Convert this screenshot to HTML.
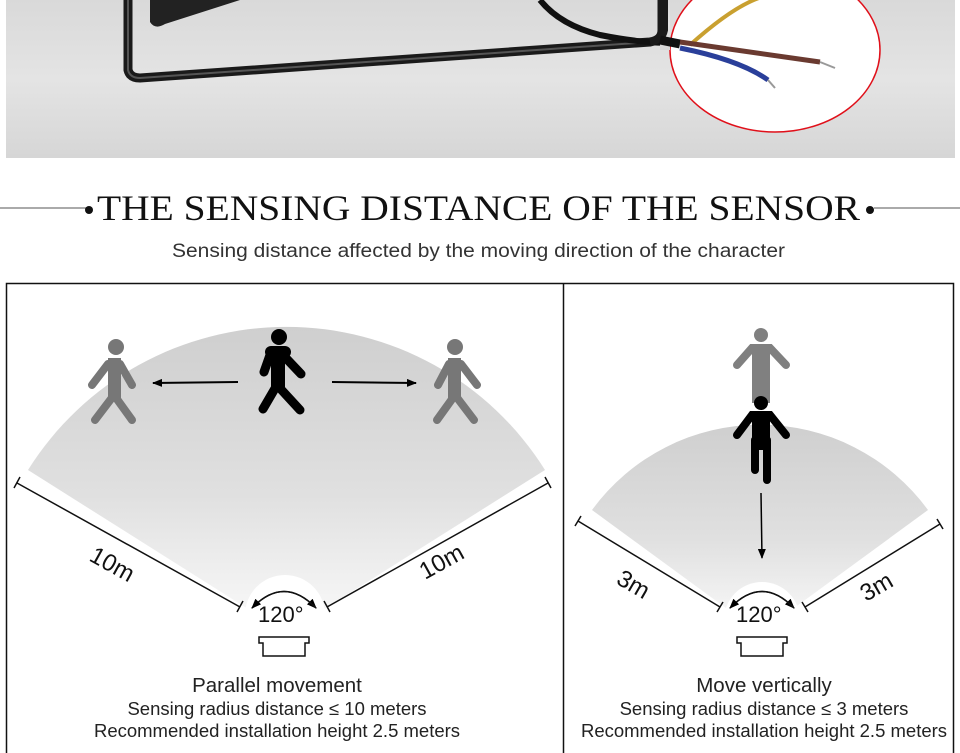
<!DOCTYPE html>
<html><head><meta charset="utf-8"><style>
html,body{margin:0;padding:0;background:#fff;width:960px;height:753px;overflow:hidden}
svg{display:block}
</style></head><body>
<svg width="960" height="753" viewBox="0 0 960 753" xmlns="http://www.w3.org/2000/svg">
<defs>
<linearGradient id="bg" x1="0" y1="0" x2="0" y2="1">
<stop offset="0" stop-color="#d9d9d9"/><stop offset="0.5" stop-color="#e4e4e4"/><stop offset="1" stop-color="#d6d6d6"/></linearGradient>
<linearGradient id="sec" x1="0" y1="0" x2="0" y2="1">
<stop offset="0" stop-color="#cfcfcf"/><stop offset="0.55" stop-color="#e0e0e0"/><stop offset="1" stop-color="#fbfbfb"/></linearGradient>
<marker id="ah" markerWidth="10" markerHeight="8" refX="9" refY="4" orient="auto" markerUnits="userSpaceOnUse"><path d="M0,0 L10,4 L0,8 Z" fill="#000"/></marker>
</defs>
<!-- photo -->
<rect x="6" y="0" width="949" height="158" fill="url(#bg)"/>
<path d="M128,0 L128,70 Q130,78 140,78 L650,42 Q662,40 662,30 L662,0" fill="none" stroke="#1a1a1a" stroke-width="9"/>
<path d="M128,0 L128,70 Q130,78 140,78 L650,42 Q662,40 662,30 L662,0" fill="none" stroke="#555" stroke-width="2"/>
<path d="M150,0 L150,22 Q155,30 165,24 L240,0 Z" fill="#222"/>
<path d="M540,0 Q560,25 600,35 Q650,45 680,42" fill="none" stroke="#111" stroke-width="6"/>
<ellipse cx="775" cy="50" rx="105" ry="82" fill="#fff" stroke="#e0101a" stroke-width="1.5"/>
<rect x="660" y="0" width="10" height="50" fill="url(#bg)"/>
<path d="M664,0 L664,30 Q662,40 650,42" fill="none" stroke="#1a1a1a" stroke-width="8"/>
<path d="M660,40 L680,44" stroke="#111" stroke-width="9"/>
<path d="M690,45 Q740,0 770,-5" fill="none" stroke="#c9a030" stroke-width="4"/>
<path d="M680,42 L820,62" stroke="#6a3a30" stroke-width="5"/>
<path d="M820,62 L835,68" stroke="#999" stroke-width="2"/>
<path d="M680,48 Q740,60 768,80" fill="none" stroke="#2a3f9a" stroke-width="5"/>
<path d="M768,80 L775,88" stroke="#999" stroke-width="2"/>
<!-- title -->
<line x1="0" y1="208" x2="86" y2="208" stroke="#555" stroke-width="1"/>
<line x1="874" y1="208" x2="960" y2="208" stroke="#555" stroke-width="1"/>
<circle cx="89" cy="210" r="4" fill="#111"/>
<circle cx="870" cy="210" r="4" fill="#111"/>
<text x="97" y="220" font-family="Liberation Serif, serif" font-size="36" fill="#111" textLength="763" lengthAdjust="spacingAndGlyphs">THE SENSING DISTANCE OF THE SENSOR</text>
<text x="172" y="257" font-family="Liberation Sans, sans-serif" font-size="19" fill="#333" textLength="613" lengthAdjust="spacingAndGlyphs">Sensing distance affected by the moving direction of the character</text>
<!-- boxes -->
<rect x="6.5" y="283.5" width="947" height="480" fill="none" stroke="#111" stroke-width="1.5"/>
<line x1="563.5" y1="283" x2="563.5" y2="753" stroke="#111" stroke-width="1.5"/>
<!-- left sector -->
<path d="M286,633 L28,470 A305,305 0 0 1 545,470 Z" fill="url(#sec)"/>
<circle cx="285" cy="615" r="40" fill="#fff"/>
<g stroke="#111" stroke-width="1.5" fill="none">
<line x1="17" y1="483" x2="240" y2="607"/><line x1="14" y1="488" x2="20" y2="477"/><line x1="237" y1="612" x2="243" y2="601"/>
<line x1="327" y1="607" x2="548" y2="483"/><line x1="324" y1="601" x2="330" y2="612"/><line x1="545" y1="477" x2="551" y2="488"/>
<path d="M252,608 Q284,575 316,608" marker-end="url(#ah)"/>
<path d="M316,608 Q284,575 252,608" marker-end="url(#ah)"/>
</g>
<text x="0" y="0" transform="translate(88,560) rotate(29)" font-family="Liberation Sans, sans-serif" font-size="24" fill="#111">10m</text>
<text x="0" y="0" transform="translate(425,580) rotate(-29)" font-family="Liberation Sans, sans-serif" font-size="24" fill="#111">10m</text>
<text x="258" y="622" font-family="Liberation Sans, sans-serif" font-size="22" fill="#111">120°</text>
<path d="M259,637 L309,637 L309,643 L305,643 L305,656 L263,656 L263,643 L259,643 Z" fill="#fff" stroke="#111" stroke-width="1.5"/>
<!-- left figures -->
<g stroke="#000" stroke-linecap="round" stroke-width="9" fill="none">
<circle cx="279" cy="337" r="8" fill="#000" stroke="none"/>
<path d="M277,355 L277,385 M277,385 L263,409 M277,385 L300,410 M270,355 L264,372 M283,355 L301,374" />
<path d="M271,352 L285,352" stroke-width="12"/>
</g>
<rect x="271" y="350" width="14" height="38" fill="#000"/>
<g stroke="#777" stroke-linecap="round" stroke-width="8" fill="none">
<circle cx="116" cy="347" r="8" fill="#777" stroke="none"/>
<path d="M114,362 L114,395 L95,420 M114,395 L132,420 M108,364 L92,385 M120,364 L132,385"/>
</g>
<rect x="108" y="358" width="13" height="40" fill="#777"/>
<g stroke="#777" stroke-linecap="round" stroke-width="8" fill="none">
<circle cx="455" cy="347" r="8" fill="#777" stroke="none"/>
<path d="M455,362 L455,395 L437,420 M455,395 L474,420 M449,364 L438,385 M461,364 L477,385"/>
</g>
<rect x="448" y="358" width="13" height="40" fill="#777"/>
<line x1="238" y1="382" x2="153" y2="383" stroke="#000" stroke-width="2" marker-end="url(#ah)"/>
<line x1="332" y1="382" x2="416" y2="383" stroke="#000" stroke-width="2" marker-end="url(#ah)"/>
<text x="277" y="692" text-anchor="middle" font-family="Liberation Sans, sans-serif" font-size="20.5" fill="#222">Parallel movement</text>
<text x="277" y="715" text-anchor="middle" font-family="Liberation Sans, sans-serif" font-size="18.5" fill="#222">Sensing radius distance ≤ 10 meters</text>
<text x="277" y="737" text-anchor="middle" font-family="Liberation Sans, sans-serif" font-size="18.5" fill="#222">Recommended installation height 2.5 meters</text>
<!-- right sector -->
<path d="M760,633 L592,510 A208,208 0 0 1 928,510 Z" fill="url(#sec)"/>
<circle cx="762" cy="620" r="38" fill="#fff"/>
<g stroke="#111" stroke-width="1.5" fill="none">
<line x1="578" y1="521" x2="720" y2="607"/><line x1="575" y1="526" x2="581" y2="516"/><line x1="717" y1="612" x2="723" y2="602"/>
<line x1="805" y1="607" x2="940" y2="524"/><line x1="802" y1="602" x2="808" y2="612"/><line x1="937" y1="519" x2="943" y2="529"/>
<path d="M730,608 Q762,575 794,608" marker-end="url(#ah)"/>
<path d="M794,608 Q762,575 730,608" marker-end="url(#ah)"/>
</g>
<text x="0" y="0" transform="translate(615,583) rotate(30)" font-family="Liberation Sans, sans-serif" font-size="24" fill="#111">3m</text>
<text x="0" y="0" transform="translate(866,602) rotate(-30)" font-family="Liberation Sans, sans-serif" font-size="24" fill="#111">3m</text>
<text x="736" y="622" font-family="Liberation Sans, sans-serif" font-size="22" fill="#111">120°</text>
<path d="M737,637 L787,637 L787,643 L783,643 L783,656 L741,656 L741,643 L737,643 Z" fill="#fff" stroke="#111" stroke-width="1.5"/>
<!-- right figures -->
<g stroke="#808080" stroke-linecap="round" stroke-width="8" fill="none">
<circle cx="761" cy="335" r="7" fill="#808080" stroke="none"/>
<path d="M737,365 L752,348 L770,348 L786,365"/>
</g>
<rect x="752" y="345" width="18" height="58" fill="#808080"/>
<g stroke="#000" stroke-linecap="round" stroke-width="8" fill="none">
<circle cx="761" cy="403" r="7" fill="#000" stroke="none"/>
<path d="M737,435 L752,415 L770,415 L786,435 M755,440 L755,470 M767,440 L767,480"/>
</g>
<rect x="752" y="412" width="18" height="38" fill="#000"/>
<line x1="761" y1="493" x2="762" y2="558" stroke="#000" stroke-width="1.5" marker-end="url(#ah)"/>
<text x="764" y="692" text-anchor="middle" font-family="Liberation Sans, sans-serif" font-size="20.5" fill="#222">Move vertically</text>
<text x="764" y="715" text-anchor="middle" font-family="Liberation Sans, sans-serif" font-size="18.5" fill="#222">Sensing radius distance ≤ 3 meters</text>
<text x="764" y="737" text-anchor="middle" font-family="Liberation Sans, sans-serif" font-size="18.5" fill="#222">Recommended installation height 2.5 meters</text>
</svg>
</body></html>
